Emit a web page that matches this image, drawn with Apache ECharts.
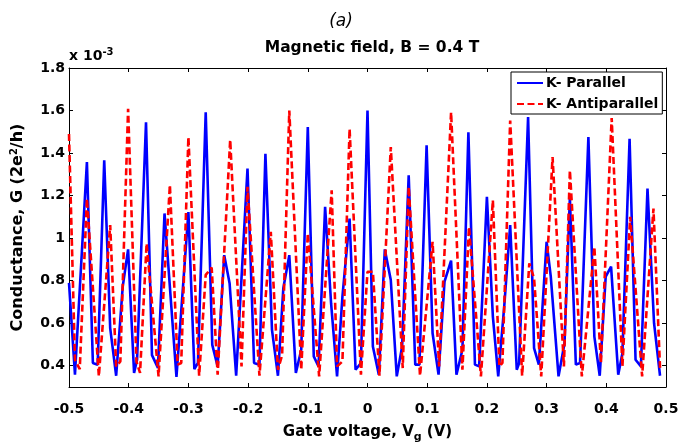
<!DOCTYPE html>
<html>
<head>
<meta charset="utf-8">
<script src="https://cdn.jsdelivr.net/npm/echarts@6/dist/echarts.min.js"></script>
<style>html,body{margin:0;padding:0;background:#fff}#c{width:693px;height:442px}</style>
</head>
<body>
<div id="c"></div>
<script>
// Gate voltage (V) and conductance (units of 1e-3 * 2e^2/h)
var parallelX = [-0.500,-0.490,-0.470,-0.460,-0.452,-0.441,-0.431,-0.421,-0.410,-0.401,-0.391,-0.386,-0.371,-0.361,-0.351,-0.340,-0.320,-0.300,-0.290,-0.284,-0.271,-0.260,-0.251,-0.240,-0.231,-0.220,-0.201,-0.190,-0.181,-0.171,-0.160,-0.150,-0.141,-0.131,-0.120,-0.111,-0.100,-0.090,-0.082,-0.071,-0.061,-0.051,-0.042,-0.030,-0.020,-0.011,0.000,0.009,0.019,0.029,0.039,0.049,0.058,0.069,0.080,0.087,0.099,0.109,0.119,0.129,0.140,0.149,0.159,0.169,0.180,0.187,0.200,0.210,0.219,0.229,0.239,0.250,0.254,0.269,0.279,0.287,0.300,0.307,0.320,0.330,0.339,0.349,0.356,0.370,0.380,0.389,0.399,0.408,0.420,0.427,0.439,0.449,0.458,0.469,0.480,0.490];
var parallelY = [0.79,0.358,1.358,0.413,0.405,1.366,0.577,0.353,0.772,0.947,0.366,0.428,1.545,0.45,0.39,1.116,0.347,1.123,0.384,0.413,1.592,0.498,0.397,0.92,0.788,0.353,1.327,0.413,0.405,1.397,0.569,0.353,0.764,0.92,0.366,0.475,1.522,0.444,0.397,1.147,0.694,0.35,0.725,1.092,0.381,0.413,1.6,0.49,0.358,0.947,0.803,0.35,0.49,1.295,0.405,0.405,1.436,0.553,0.358,0.795,0.894,0.358,0.475,1.498,0.405,0.397,1.194,0.631,0.35,0.678,1.061,0.381,0.413,1.569,0.483,0.405,0.983,0.819,0.35,0.506,1.19,0.405,0.413,1.475,0.537,0.353,0.819,0.866,0.358,0.459,1.467,0.428,0.397,1.233,0.6,0.353];
var antiX = [-0.500,-0.490,-0.482,-0.470,-0.450,-0.431,-0.421,-0.414,-0.401,-0.387,-0.381,-0.370,-0.350,-0.331,-0.318,-0.312,-0.300,-0.282,-0.271,-0.261,-0.251,-0.230,-0.211,-0.201,-0.181,-0.162,-0.150,-0.143,-0.131,-0.111,-0.100,-0.081,-0.060,-0.051,-0.042,-0.030,-0.011,0.000,0.009,0.020,0.039,0.059,0.069,0.088,0.109,0.120,0.140,0.159,0.170,0.190,0.210,0.221,0.226,0.239,0.259,0.271,0.279,0.291,0.310,0.329,0.339,0.359,0.380,0.391,0.409,0.427,0.440,0.460,0.479,0.490];
var antiY = [1.49,0.428,0.384,1.186,0.35,1.061,0.397,0.42,1.608,0.42,0.366,0.975,0.35,1.25,0.405,0.413,1.475,0.353,0.827,0.861,0.358,1.462,0.397,1.241,0.353,1.03,0.381,0.45,1.6,0.381,1.022,0.35,1.225,0.397,0.42,1.514,0.358,0.842,0.842,0.353,1.428,0.389,1.241,0.353,0.983,0.397,1.592,0.381,1.053,0.35,1.178,0.397,0.413,1.553,0.353,0.881,0.811,0.35,1.381,0.397,1.319,0.35,0.959,0.413,1.565,0.397,1.1,0.35,1.139,0.39];
var xTicks = [-0.5,-0.4,-0.3,-0.2,-0.1,0,0.1,0.2,0.3,0.4,0.5];
var yTicks = [0.4,0.6,0.8,1,1.2,1.4,1.6,1.8];
var seriesNames = ['K- Parallel','K- Antiparallel'];

function pairs(xs, ys){ return xs.map(function(x,i){ return [x, ys[i]]; }); }

var FONT = 'DejaVu Sans';
var chart = echarts.init(document.getElementById('c'), null, {renderer:'canvas'});
var axisCommon = {
  type:'value', splitLine:{show:false},
  axisLine:{show:true, onZero:false, lineStyle:{color:'#000', width:1}}
};
chart.setOption({
  animation:false,
  backgroundColor:'#fff',
  title:[
    {text:'(a)', left:336, top:8, textAlign:'center',
     textStyle:{fontFamily:FONT, fontStyle:'italic', fontWeight:'normal', fontSize:17, color:'#000'}},
    {text:'Magnetic field, B = 0.4 T', left:367, top:35, textAlign:'center',
     textStyle:{fontFamily:FONT, fontWeight:'bold', fontSize:15.5, color:'#000'}}
  ],
  grid:{left:69, right:27, top:68, bottom:55, containLabel:false, outerBoundsMode:'none'},
  legend:{
    data:seriesNames, orient:'vertical', left:511, top:72,
    backgroundColor:'#fff', borderColor:'#000', borderWidth:1,
    padding:[4,4,3,5], itemGap:7, itemWidth:26, itemHeight:14,
    itemStyle:{opacity:0},
    textStyle:{fontFamily:FONT, fontWeight:'bold', fontSize:14, color:'#000', padding:[0,0,0,-2]}
  },
  xAxis:[
    Object.assign({}, axisCommon, {
      min:-0.5, max:0.5, position:'bottom',
      axisTick:{inside:true, length:4, customValues:xTicks, lineStyle:{color:'#000'}},
      axisLabel:{customValues:xTicks, margin:15, fontFamily:FONT, fontWeight:'bold', fontSize:14, color:'#000'},
      name:'Gate voltage, V{sub|g} (V)', nameLocation:'middle', nameGap:35,
      nameTextStyle:{fontFamily:FONT, fontWeight:'bold', fontSize:15, color:'#000',
        rich:{sub:{fontFamily:FONT, fontWeight:'bold', fontSize:11, color:'#000', padding:[10,0,0,0]}}}
    }),
    Object.assign({}, axisCommon, {
      min:-0.5, max:0.5, position:'top',
      axisTick:{inside:true, length:4, customValues:xTicks, lineStyle:{color:'#000'}},
      axisLabel:{show:false}
    })
  ],
  yAxis:[
    Object.assign({}, axisCommon, {
      min:0.3, max:1.8, position:'left',
      axisTick:{inside:true, length:4, customValues:yTicks, lineStyle:{color:'#000'}},
      axisLabel:{customValues:yTicks, margin:4, fontFamily:FONT, fontWeight:'bold', fontSize:14, color:'#000'},
      name:'Conductance, G (2e{sup|2}/h)', nameLocation:'middle', nameGap:42, nameRotate:90,
      nameTextStyle:{fontFamily:FONT, fontWeight:'bold', fontSize:16, color:'#000',
        rich:{sup:{fontFamily:FONT, fontWeight:'bold', fontSize:10, color:'#000', padding:[0,0,8,0]}}}
    }),
    Object.assign({}, axisCommon, {
      min:0.3, max:1.8, position:'right',
      axisTick:{inside:true, length:4, customValues:yTicks, lineStyle:{color:'#000'}},
      axisLabel:{show:false}
    })
  ],
  graphic:[{
    type:'text', left:69, top:47,
    style:{text:'x 10{sup|-3}', fill:'#000', font:'bold 14px "DejaVu Sans"',
      rich:{sup:{fontFamily:FONT, fontWeight:'bold', fontSize:10, fill:'#000', padding:[0,0,9,0]}}}
  }],
  series:[
    {name:seriesNames[0], type:'line', data:pairs(parallelX, parallelY), symbol:'none', showSymbol:false,
     color:'#0000ff', lineStyle:{color:'#0000ff', width:2.6}, z:2},
    {name:seriesNames[1], type:'line', data:pairs(antiX, antiY), symbol:'none', showSymbol:false,
     color:'#ff0000', lineStyle:{color:'#ff0000', width:2.6, type:[7,3.5]}, z:3}
  ]
});
</script>
</body>
</html>
